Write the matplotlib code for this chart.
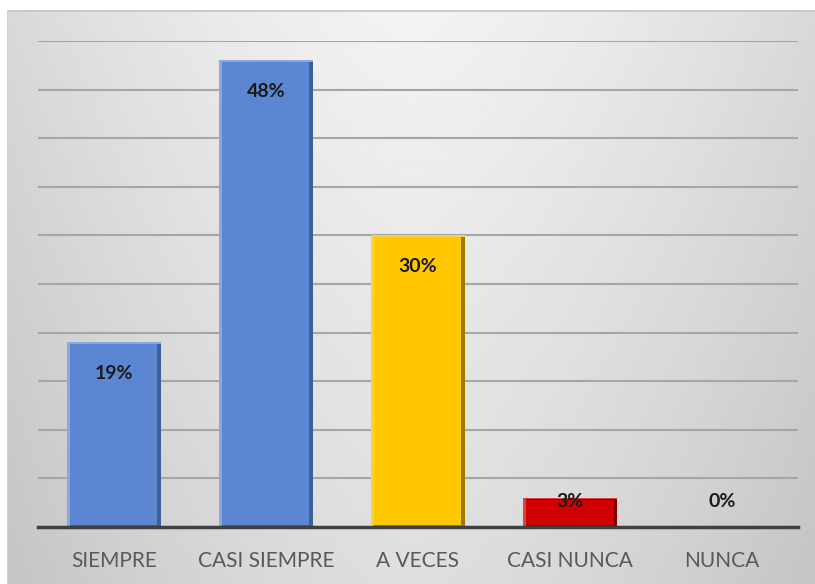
import matplotlib.pyplot as plt
import numpy as np

categories = ["SIEMPRE", "CASI SIEMPRE", "A VECES", "CASI NUNCA", "NUNCA"]
values = [19, 48, 30, 3, 0]
labels = ["19%", "48%", "30%", "3%", "0%"]
face_colors = ["#5B87D2", "#5B87D2", "#FFC800", "#D00000", "#D00000"]
light_colors = ["#8AA8DC", "#8AA8DC", "#F5D24A", "#E04040", "#E04040"]
dark_colors = ["#3E5F99", "#3E5F99", "#9C7C00", "#8A0000", "#8A0000"]

plt.rcParams["font.family"] = ["Lato", "DejaVu Sans"]

fig = plt.figure(figsize=(8.15, 5.84), dpi=100)
fig.patch.set_facecolor("white")

# chart area background with soft gradient
bg = fig.add_axes([7 / 815, 0, 1 - 7 / 815, 1 - 10 / 584])
bg.set_xlim(0, 1)
bg.set_ylim(0, 1)
gx, gy = np.meshgrid(np.linspace(-1, 1, 200), np.linspace(0, 1, 200))
shade = 0.95 - 0.10 * np.abs(gx) ** 1.5 - 0.08 * (1 - gy)
bg.imshow(shade, cmap="gray", vmin=0, vmax=1, extent=[0, 1, 0, 1],
          aspect="auto", origin="lower")
bg.axhline(1, color="#c8c8c8", lw=2)
bg.axvline(0, color="#d0d0d0", lw=1.5)
bg.axis("off")

ax = fig.add_axes([38 / 815, 1 - 527 / 584, 760 / 815, 486 / 584])
ax.patch.set_alpha(0)
x = np.arange(len(categories))

# bevel look: light rim, dark lower-right rim, flat face
ax.bar(x, values, width=0.62, color=light_colors, zorder=3)
ax.bar(x + 0.01, [max(v - 0.15, 0) for v in values], width=0.60,
       color=dark_colors, zorder=3.5)
ax.bar(x - 0.005, [max(v - 0.45, 0) for v in values], width=0.57,
       bottom=[min(v, 0.25) for v in values], color=face_colors, zorder=4)

for xi, v, lab in zip(x, values, labels):
    ax.text(xi, max(v - 3.2, 2.6), lab, ha="center", va="center",
            fontsize=14, fontweight="bold", color="#1a1a1a", zorder=5)

ax.set_ylim(0, 50)
ax.set_xlim(-0.5, len(categories) - 0.5)
ax.set_yticks(np.arange(5, 51, 5))
ax.yaxis.grid(True, color="#a6a6a6", lw=1.5, zorder=1)
ax.tick_params(axis="y", left=False, labelleft=False)
ax.tick_params(axis="x", length=0, pad=17, labelsize=15, labelcolor="#595959")
ax.set_xticks(x)
ax.set_xticklabels(categories)
for s in ["top", "right", "left"]:
    ax.spines[s].set_visible(False)
ax.spines["bottom"].set_color("#404040")
ax.spines["bottom"].set_linewidth(2.5)
ax.spines["bottom"].set_zorder(6)

fig.savefig("out.png", dpi=100)
